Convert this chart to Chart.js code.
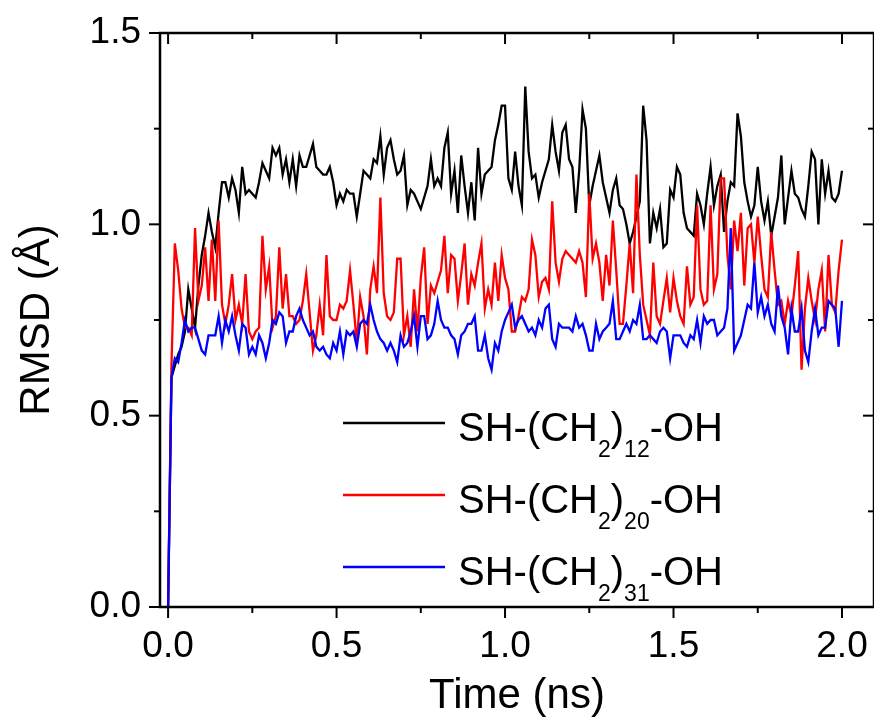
<!DOCTYPE html>
<html>
<head>
<meta charset="utf-8">
<script src="https://cdn.jsdelivr.net/npm/chart.js@4.4.0/dist/chart.umd.min.js"></script>
<style>
  html, body { margin: 0; padding: 0; background: #fff; overflow: hidden; }
  canvas { display: block; }
</style>
</head>
<body>
<canvas id="rmsdChart" width="874" height="719"></canvas>
<script>
const rmsd12 = [
  0, 0.60, 0.63, 0.66, 0.68, 0.72, 0.83, 0.78, 0.73, 0.84,
  0.92, 0.97, 1.03, 0.98, 0.94, 1.03, 1.11, 1.11, 1.07, 1.12,
  1.09, 1.03, 1.15, 1.08, 1.09, 1.08, 1.07, 1.11, 1.16, 1.14,
  1.12, 1.20, 1.18, 1.20, 1.13, 1.17, 1.11, 1.17, 1.10, 1.18,
  1.15, 1.15, 1.18, 1.21, 1.15, 1.14, 1.13, 1.13, 1.15, 1.11,
  1.05, 1.08, 1.06, 1.09, 1.08, 1.08, 1.02, 1.08, 1.14, 1.13,
  1.12, 1.17, 1.16, 1.23, 1.13, 1.20, 1.22, 1.17, 1.13, 1.14,
  1.18, 1.05, 1.09, 1.08, 1.06, 1.04, 1.07, 1.10, 1.17, 1.10,
  1.12, 1.10, 1.20, 1.24, 1.08, 1.14, 1.03, 1.18, 1.10, 1.03,
  1.11, 1.01, 1.20, 1.08, 1.13, 1.14, 1.15, 1.22, 1.26, 1.31,
  1.31, 1.12, 1.09, 1.19, 1.10, 1.05, 1.36, 1.19, 1.12, 1.13,
  1.07, 1.11, 1.14, 1.17, 1.26, 1.19, 1.14, 1.24, 1.26, 1.17,
  1.15, 1.03, 1.14, 1.30, 1.25, 1.05, 1.10, 1.14, 1.18, 1.11,
  1.07, 1.03, 1.09, 1.12, 1.05, 1.04, 1.00, 0.95, 0.98, 1.02,
  1.06, 1.31, 1.22, 0.95, 1.03, 0.99, 1.04, 0.94, 0.95, 1.09,
  1.07, 1.15, 1.13, 1.03, 0.99, 0.98, 0.97, 1.08, 1.05, 1.00,
  1.08, 1.15, 1.05, 1.10, 1.13, 0.98, 1.06, 1.11, 1.10, 1.29,
  1.23, 1.11, 1.06, 1.02, 1.05, 1.15, 1.06, 1.01, 1.06, 0.97,
  1.02, 1.07, 1.18, 1.00, 1.07, 1.14, 1.08, 1.07, 1.04, 1.02,
  1.10, 1.19, 1.17, 1.00, 1.17, 1.08, 1.14, 1.07, 1.06, 1.08,
  1.14
];
const rmsd20 = [
  0, 0.63, 0.95, 0.88, 0.78, 0.73, 0.73, 0.71, 0.99, 0.80,
  0.84, 0.94, 0.80, 0.96, 0.80, 1.01, 0.79, 0.74, 0.79, 0.87,
  0.75, 0.79, 0.74, 0.87, 0.72, 0.70, 0.72, 0.73, 0.97, 0.83,
  0.89, 0.73, 0.76, 0.94, 0.78, 0.87, 0.76, 0.76, 0.74, 0.75,
  0.80, 0.87, 0.77, 0.67, 0.71, 0.79, 0.71, 0.92, 0.76, 0.75,
  0.75, 0.79, 0.78, 0.80, 0.88, 0.79, 0.69, 0.81, 0.76, 0.66,
  0.83, 0.89, 0.82, 1.07, 0.82, 0.76, 0.75, 0.77, 0.91, 0.91,
  0.71, 0.76, 0.68, 0.83, 0.72, 0.86, 0.94, 0.74, 0.84, 0.82,
  0.85, 0.88, 0.97, 0.82, 0.92, 0.91, 0.80, 0.87, 0.95, 0.79,
  0.87, 0.84, 0.90, 0.95, 0.78, 0.83, 0.79, 0.90, 0.80, 0.92,
  0.86, 0.83, 0.72, 0.72, 0.76, 0.81, 0.80, 0.83, 0.96, 0.92,
  0.81, 0.85, 0.86, 0.83, 1.06, 0.90, 0.85, 0.91, 0.93, 0.92,
  0.91, 0.90, 0.93, 0.90, 0.81, 1.08, 0.91, 0.95, 0.90, 0.80,
  0.92, 0.84, 1.01, 0.88, 0.74, 0.74, 0.84, 0.95, 0.82, 1.13,
  0.92, 0.79, 0.75, 0.71, 0.90, 0.76, 0.74, 0.80, 0.86, 0.77,
  0.86, 0.80, 0.76, 0.74, 0.89, 0.79, 0.81, 1.05, 0.83, 0.79,
  0.80, 1.05, 0.83, 0.87, 1.12, 1.12, 0.92, 0.83, 1.01, 0.93,
  1.03, 0.84, 0.99, 1.00, 0.90, 1.02, 0.92, 0.83, 0.81, 0.98,
  0.88, 0.79, 0.80, 0.74, 0.80, 0.76, 0.84, 0.93, 0.62, 0.78,
  0.86, 0.80, 0.75, 0.83, 0.88, 0.72, 0.92, 0.79, 0.77, 0.88,
  0.96
];
const rmsd31 = [
  0, 0.60, 0.65, 0.64, 0.69, 0.75, 0.72, 0.73, 0.73, 0.70,
  0.67, 0.66, 0.71, 0.71, 0.71, 0.76, 0.69, 0.75, 0.72, 0.76,
  0.71, 0.67, 0.74, 0.73, 0.66, 0.68, 0.66, 0.71, 0.69, 0.65,
  0.69, 0.75, 0.74, 0.77, 0.76, 0.69, 0.72, 0.72, 0.76, 0.78,
  0.75, 0.73, 0.71, 0.72, 0.68, 0.67, 0.68, 0.66, 0.65, 0.69,
  0.67, 0.72, 0.66, 0.72, 0.71, 0.72, 0.68, 0.74, 0.75, 0.74,
  0.79, 0.75, 0.72, 0.70, 0.69, 0.67, 0.69, 0.67, 0.64, 0.71,
  0.68, 0.69, 0.72, 0.76, 0.68, 0.76, 0.76, 0.70, 0.71, 0.74,
  0.80, 0.75, 0.73, 0.73, 0.71, 0.70, 0.66, 0.71, 0.72, 0.74,
  0.74, 0.76, 0.67, 0.67, 0.71, 0.65, 0.62, 0.69, 0.67, 0.72,
  0.75, 0.77, 0.79, 0.73, 0.75, 0.76, 0.74, 0.72, 0.73, 0.71,
  0.75, 0.73, 0.78, 0.79, 0.70, 0.68, 0.74, 0.73, 0.73, 0.73,
  0.72, 0.76, 0.73, 0.74, 0.71, 0.67, 0.67, 0.74, 0.70, 0.72,
  0.73, 0.74, 0.80, 0.70, 0.70, 0.72, 0.74, 0.72, 0.75, 0.74,
  0.79, 0.70, 0.70, 0.71, 0.70, 0.69, 0.72, 0.73, 0.72, 0.65,
  0.71, 0.71, 0.71, 0.69, 0.68, 0.71, 0.70, 0.75, 0.69, 0.76,
  0.74, 0.75, 0.75, 0.71, 0.72, 0.73, 0.78, 0.99, 0.67, 0.69,
  0.71, 0.75, 0.79, 0.78, 0.90, 0.77, 0.81, 0.76, 0.79, 0.74,
  0.72, 0.84, 0.76, 0.73, 0.66, 0.78, 0.72, 0.72, 0.78, 0.67,
  0.64, 0.72, 0.78, 0.71, 0.73, 0.73, 0.80, 0.79, 0.78, 0.68,
  0.80
];

// time axis: one frame every 0.01 ns
const timeStep = 0.01;
const times = rmsd12.map((_, i) => +(i * timeStep).toFixed(2));

const chainLengths = ['12', '20', '31'];
const lineColors = ['#000000', '#ff0000', '#0000ff'];

const xMajor = [0, 0.5, 1.0, 1.5, 2.0];
const xMinor = [0.25, 0.75, 1.25, 1.75];
const yMajor = [0, 0.5, 1.0, 1.5];
const yMinor = [0.25, 0.75, 1.25];

const FONT = '"Liberation Sans", Arial, Helvetica, sans-serif';

// frame with Origin-style ticks: out on left/bottom, in on top/right
const frameAndTicks = {
  id: 'frameAndTicks',
  afterDraw(chart) {
    const ctx = chart.ctx;
    const a = chart.chartArea;
    const xs = chart.scales.x, ys = chart.scales.y;
    ctx.save();
    ctx.strokeStyle = '#000';
    ctx.lineWidth = 2.5;
    ctx.lineCap = 'butt';
    ctx.strokeRect(a.left, a.top, a.right - a.left, a.bottom - a.top);

    ctx.lineWidth = 2;
    const tick = (x1, y1, x2, y2) => {
      ctx.beginPath(); ctx.moveTo(x1, y1); ctx.lineTo(x2, y2); ctx.stroke();
    };
    xMajor.forEach(v => {
      const px = xs.getPixelForValue(v);
      tick(px, a.bottom, px, a.bottom + 11);
      tick(px, a.top, px, a.top + 11);
    });
    xMinor.forEach(v => {
      const px = xs.getPixelForValue(v);
      tick(px, a.bottom, px, a.bottom + 6);
      tick(px, a.top, px, a.top + 6);
    });
    yMajor.forEach(v => {
      const py = ys.getPixelForValue(v);
      tick(a.left, py, a.left - 11, py);
      tick(a.right, py, a.right - 11, py);
    });
    yMinor.forEach(v => {
      const py = ys.getPixelForValue(v);
      tick(a.left, py, a.left - 6, py);
      tick(a.right, py, a.right - 6, py);
    });
    ctx.restore();
  }
};

// legend with subscripts drawn by hand
const subLegend = {
  id: 'subLegend',
  afterDraw(chart) {
    const ctx = chart.ctx;
    const a = chart.chartArea;
    const x0 = a.left + 183;
    const lineLen = 102;
    ctx.save();
    chainLengths.forEach((n, i) => {
      const y = a.top + 390 + i * 72;
      ctx.strokeStyle = lineColors[i];
      ctx.lineWidth = 2.3;
      ctx.beginPath(); ctx.moveTo(x0, y); ctx.lineTo(x0 + lineLen, y); ctx.stroke();

      const base = y + 18;
      let tx = x0 + lineLen + 13;
      ctx.fillStyle = '#000';
      ctx.textBaseline = 'alphabetic';
      ctx.textAlign = 'left';
      const part = (txt, size, dy) => {
        ctx.font = size + 'px ' + FONT;
        ctx.fillText(txt, tx, base + dy);
        tx += ctx.measureText(txt).width;
      };
      part('SH-(CH', 40, 0);
      part('2', 23, 16);
      part(')', 40, 0);
      part(n, 23, 16);
      part('-OH', 40, 0);
    });
    ctx.restore();
  }
};

const ctx = document.getElementById('rmsdChart');

new Chart(ctx, {
  type: 'line',
  data: {
    datasets: [
      {
        label: 'SH-(CH2)12-OH',
        data: times.map((t, i) => ({ x: t, y: rmsd12[i] })),
        borderColor: lineColors[0],
        order: 3
      },
      {
        label: 'SH-(CH2)20-OH',
        data: times.map((t, i) => ({ x: t, y: rmsd20[i] })),
        borderColor: lineColors[1],
        order: 2
      },
      {
        label: 'SH-(CH2)31-OH',
        data: times.map((t, i) => ({ x: t, y: rmsd31[i] })),
        borderColor: lineColors[2],
        order: 1
      }
    ]
  },
  options: {
    responsive: false,
    animation: false,
    devicePixelRatio: 1,
    layout: {
      padding: { top: 33, right: -2, bottom: 0, left: 0 }
    },
    elements: {
      point: { radius: 0 },
      line: { borderWidth: 2.3, tension: 0 }
    },
    scales: {
      x: {
        type: 'linear',
        min: -0.024,
        max: 2.095,
        afterBuildTicks: (scale) => { scale.ticks = xMajor.map(v => ({ value: v })); },
        afterFit: (scale) => {
          scale.height = 112;
          scale.paddingLeft = 0;
          scale.paddingRight = 0;
        },
        grid: { display: false, drawTicks: false },
        border: { display: false },
        ticks: {
          color: '#000',
          padding: 18,
          maxRotation: 0,
          font: { family: FONT, size: 37 },
          callback: (v) => Number(v).toFixed(1)
        },
        title: {
          display: true,
          text: 'Time (ns)',
          color: '#000',
          font: { family: FONT, size: 42, lineHeight: 1.0 },
          padding: { top: 0, bottom: 2 }
        }
      },
      y: {
        min: 0,
        max: 1.5,
        afterBuildTicks: (scale) => { scale.ticks = yMajor.map(v => ({ value: v })); },
        afterFit: (scale) => {
          scale.width = 160;
          scale.paddingTop = 0;
          scale.paddingBottom = 0;
        },
        grid: { display: false, drawTicks: false },
        border: { display: false },
        ticks: {
          color: '#000',
          padding: 19,
          font: { family: FONT, size: 37 },
          callback: (v) => Number(v).toFixed(1)
        },
        title: {
          display: true,
          text: 'RMSD (Å)',
          color: '#000',
          font: { family: FONT, size: 42, lineHeight: 1.0 },
          padding: { top: 16, bottom: 0 }
        }
      }
    },
    plugins: {
      legend: { display: false },
      tooltip: { enabled: false }
    }
  },
  plugins: [frameAndTicks, subLegend]
});
</script>
</body>
</html>
